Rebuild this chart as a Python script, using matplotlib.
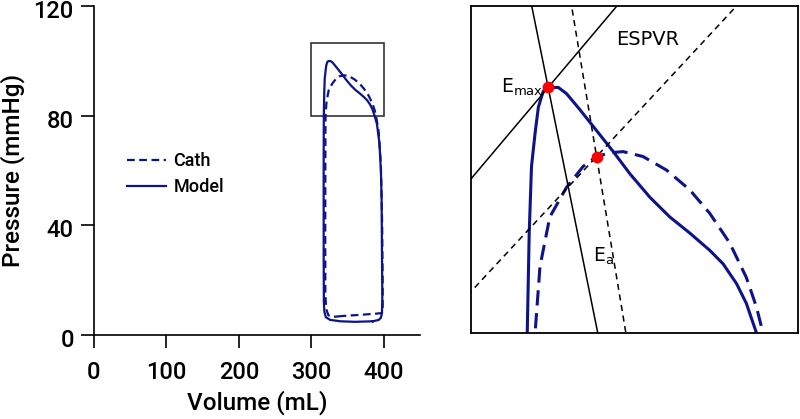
import matplotlib.pyplot as plt
import matplotlib.transforms as mtransforms
import numpy as np
from matplotlib.patches import Rectangle

plt.rcParams['font.family'] = ['Roboto', 'DejaVu Sans']

# PV-loop data (volume mL, pressure mmHg)
model_vol = [385, 360, 340, 326, 320, 318, 317.3, 317, 317, 317.2, 317.8, 318.5,
             319.6, 320.6, 322.1, 323.6, 326.7, 329.2, 333.3, 338.4, 343.5, 348.6,
             354.7, 360.8, 366.9, 373.0, 377.1, 381.2, 384.2, 387.3, 390.5, 394,
             396, 397, 397.5, 398, 397.5, 396, 393, 385]
model_prs = [5.0, 4.8, 5.0, 5.5, 6.5, 8.5, 12, 30, 60, 80, 88.1, 93.5,
             96.2, 98.3, 99.6, 99.9, 99.9, 99.4, 98.1, 96.4, 94.7, 92.9,
             91.0, 89.4, 88.1, 86.7, 85.6, 84.0, 82.4, 80.0, 77.0, 70,
             60, 50, 30, 14, 8, 6.3, 5.5, 5.0]

cath_vol = [342, 330, 323.5, 320.5, 319.3, 319.2, 319.4, 319.6, 321.1, 324.1,
            329.2, 334.3, 338.4, 342.5, 346.5, 352.6, 359.8, 366.9, 373.0, 379.1,
            384.2, 387.3, 389.3, 393, 396, 397.8, 398.4, 398.5, 397.5, 390, 370, 342]
cath_prs = [6.9, 6.6, 7.2, 9.5, 15, 40, 70, 80, 85.4, 89.4,
            91.8, 93.5, 94.3, 94.6, 94.7, 94.3, 93.2, 91.6, 89.7, 87.3,
            84.5, 82.1, 80.0, 74, 62, 40, 20, 10, 8.0, 7.8, 7.4, 6.9]

# end-systolic points and slopes (inset)
emax_model = (323.6, 99.9)
emax_cath = (338.4, 94.3)
ees_model, ea_model = 0.314, -1.312
ees_cath, ea_cath = 0.285, -1.596

navy = '#0d1389'

fig = plt.figure(figsize=(8, 4.19), dpi=100)
ax = fig.add_axes([0.1175, 0.2005, 0.4075, 0.7852])
ax_in = fig.add_axes([0.58875, 0.2053, 0.40875, 0.7804])

# main PV loops
ax.plot(cath_vol, cath_prs, color=navy, lw=1.6, ls=(0, (3.5, 2)), label='Cath')
ax.plot(model_vol, model_prs, color=navy, lw=1.6, label='Model')
ax.add_patch(Rectangle((300, 80), 100, 26.5, fill=False, ec='#333333', lw=1.2))

ax.set_xlim(0, 450)
ax.set_ylim(0, 120)
ax.set_xticks([0, 100, 200, 300, 400])
ax.set_yticks([0, 40, 80, 120])
for s in ['top', 'right']:
    ax.spines[s].set_visible(False)
for s in ['left', 'bottom']:
    ax.spines[s].set_linewidth(1.2)
ax.tick_params(direction='out', length=9.5, width=1.2, labelsize=17, pad=5)
ax.tick_params(axis='x', pad=9)
for lab in ax.get_xticklabels() + ax.get_yticklabels():
    lab.set_fontweight('medium')
# y tick labels sit a little below their ticks
shift = mtransforms.ScaledTranslation(0, -3 / 100, fig.dpi_scale_trans)
for lab in ax.get_yticklabels():
    lab.set_transform(lab.get_transform() + shift)
ax.set_xlabel('Volume (mL)', fontsize=17.5, fontweight='medium', labelpad=5)
ax.set_ylabel('Pressure (mmHg)', fontsize=17.5, fontweight='medium', labelpad=6)
ax.legend(loc='upper left', bbox_to_anchor=(0.05, 0.605), frameon=False,
          prop={'size': 13, 'weight': 'medium'}, handlelength=2.2,
          handletextpad=0.4, labelspacing=0.45)

# inset zoom
ax_in.plot(cath_vol, cath_prs, color=navy, lw=2.2, ls=(0, (5, 2.5)))
ax_in.plot(model_vol, model_prs, color=navy, lw=2.2)
v = np.array([290, 410])
ax_in.plot(v, emax_model[1] + ees_model * (v - emax_model[0]), color='k', lw=1.1)
ax_in.plot(v, emax_model[1] + ea_model * (v - emax_model[0]), color='k', lw=1.1)
ax_in.plot(v, emax_cath[1] + ees_cath * (v - emax_cath[0]), color='k', lw=1.1, ls=(0, (4, 3)))
ax_in.plot(v, emax_cath[1] + ea_cath * (v - emax_cath[0]), color='k', lw=1.1, ls=(0, (4, 3)))
ax_in.plot(*emax_model, 'o', color='red', ms=7.5, zorder=5)
ax_in.plot(*emax_cath, 'o', color='red', ms=7.5, zorder=5)

ax_in.text(353.9, 103.8, 'ESPVR', fontsize=14, family='DejaVu Sans', ha='center', va='center')
ax_in.text(322, 99.9, r'E$_{\rm max}$', fontsize=13.5, family='DejaVu Sans', ha='right', va='center')
ax_in.text(340.5, 86.2, r'E$_{\rm a}$', fontsize=13.5, family='DejaVu Sans', ha='center', va='center')

ax_in.set_xlim(300, 400)
ax_in.set_ylim(80, 106.5)
ax_in.set_xticks([])
ax_in.set_yticks([])
for s in ax_in.spines.values():
    s.set_linewidth(1.3)

fig.savefig('out.png', dpi=100)
